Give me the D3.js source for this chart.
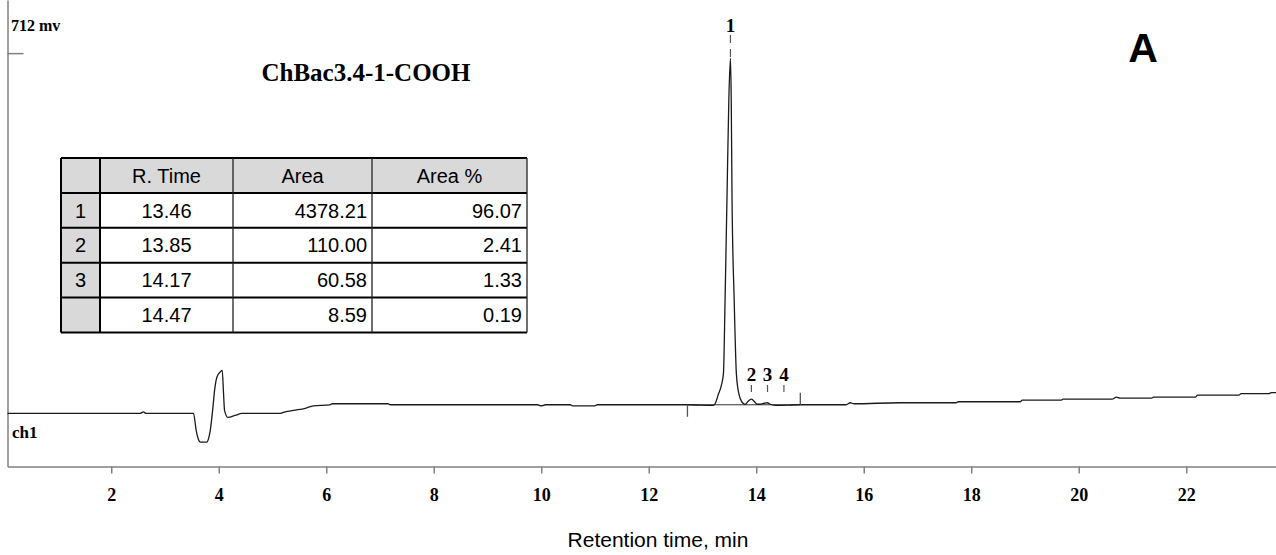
<!DOCTYPE html>
<html>
<head>
<meta charset="utf-8">
<script src="https://cdn.jsdelivr.net/npm/d3@7"></script>
<style>
  body { margin: 0; background: #fff; }
  svg { display: block; }
</style>
</head>
<body>
<div id="chart"></div>
<script>
// DATA

// chromatogram trace: retention time (min) / signal (mV)
const trace_t = [
    0.07, 2.54, 2.595, 2.65, 3.53, 3.581, 3.624, 3.66, 3.78, 3.81, 3.842, 3.892, 3.922, 3.967, 4.028, 4.065,
    4.089, 4.108, 4.171, 4.307, 4.432, 5.14, 5.2, 5.39, 5.61, 5.76, 6.07, 6.11, 7.15, 7.19, 9.93, 10.0,
    10.08, 10.54, 10.58, 11.0, 11.04, 12.72, 13.2, 13.24, 13.29, 13.35, 13.39, 13.42, 13.455, 13.49,
    13.52, 13.535, 13.55, 13.59, 13.63, 13.665, 13.7, 13.755, 13.795, 13.85, 13.91, 13.96, 14.02, 14.07,
    14.15, 14.205, 14.26, 14.35, 14.82, 15.67, 15.75, 15.82, 16.68, 17.72, 17.76, 18.91, 18.95, 19.67,
    19.71, 20.62, 20.7, 20.77, 21.35, 21.39, 22.17, 22.21, 22.98, 23.02, 23.54, 23.58, 23.67
];
const trace_mv = [
    0, 0, 3, 0, 0, -34, -52, -57, -57, -50, -34, 12, 45, 72, 82, 85,
    40, 6, -8, -4, 0, 0, 2, 6, 10, 15, 17, 19, 19, 17, 17, 15,
    17, 17, 15, 15, 17, 17, 16, 20, 36, 55, 79, 223, 421, 619,
    702, 619, 421, 223, 79, 45, 30, 20, 18, 24, 28, 24, 18, 18,
    20, 21, 18, 16, 17, 17, 21, 19, 21, 21, 23, 23, 26, 26,
    28, 28, 32, 30, 30, 32, 32, 36, 36, 39, 39, 41, 41
];

// integration baseline under the peak group
const base_t = [12.72, 14.82];
const base_mv = [17, 17];

// peak labels
const peak_labels = ['1', '2', '3', '4'];
const peak_t = [13.52, 13.91, 14.21, 14.515];

// x axis ticks
const x_ticks = [2, 4, 6, 8, 10, 12, 14, 16, 18, 20, 22];
const y_ticks = [712];

// results table
const tbl_header = ['', 'R. Time', 'Area', 'Area %'];
const tbl_no = ['1', '2', '3', ''];
const tbl_time = ['13.46', '13.85', '14.17', '14.47'];
const tbl_area = ['4378.21', '110.00', '60.58', '8.59'];
const tbl_pct = ['96.07', '2.41', '1.33', '0.19'];

// CONFIG

const width = 1276,
    height = 555;

const plot = { left: 7.5, right: 1276, top: 0, bottom: 466.5 };

const serif = '"Liberation Serif", "Times New Roman", serif',
    sans = '"Liberation Sans", Arial, sans-serif';

const svg = d3.select('#chart')
    .append('svg')
    .attr('width', width)
    .attr('height', height);

// SCALES

const x_scale = d3.scaleLinear()
    .domain([0.07, 23.67])
    .range([plot.left, plot.right]);

const y_scale = d3.scaleLinear()
    .domain([-105, 817])
    .range([plot.bottom, plot.top]);

// AXES

const x_axis = d3.axisBottom(x_scale)
    .tickValues(x_ticks)
    .tickSize(7)
    .tickSizeOuter(0)
    .tickPadding(15)
    .tickFormat(d3.format('d'));

const gx = svg.append('g')
    .attr('transform', `translate(0, ${plot.bottom})`)
    .call(x_axis);

gx.select('.domain').attr('stroke', '#808080').attr('stroke-width', 1.5);
gx.selectAll('.tick line').attr('stroke', '#808080').attr('stroke-width', 1.5);
gx.selectAll('.tick text')
    .attr('fill', '#000')
    .style('font-family', serif)
    .style('font-weight', 'bold')
    .style('font-size', '18px');

const y_axis = d3.axisRight(y_scale)
    .tickValues(y_ticks)
    .tickSize(16)
    .tickSizeOuter(0)
    .tickFormat('');

const gy = svg.append('g')
    .attr('transform', `translate(${plot.left}, 0)`)
    .call(y_axis);

gy.select('.domain').attr('stroke', '#808080').attr('stroke-width', 1.5);
gy.selectAll('.tick line').attr('stroke', '#808080').attr('stroke-width', 1.5);

svg.append('text')
    .attr('x', 11)
    .attr('y', 31)
    .style('font-family', serif)
    .style('font-weight', 'bold')
    .style('font-size', '16px')
    .text('712 mv');

svg.append('text')
    .attr('x', 12)
    .attr('y', 438)
    .style('font-family', serif)
    .style('font-weight', 'bold')
    .style('font-size', '17px')
    .text('ch1');

svg.append('text')
    .attr('x', 658)
    .attr('y', 547)
    .style('text-anchor', 'middle')
    .style('font-family', sans)
    .style('font-size', '21px')
    .text('Retention time, min');

// TITLES

svg.append('text')
    .attr('x', 366)
    .attr('y', 81)
    .style('text-anchor', 'middle')
    .style('font-family', serif)
    .style('font-weight', 'bold')
    .style('font-size', '25px')
    .text('ChBac3.4-1-COOH');

svg.append('text')
    .attr('x', 1143)
    .attr('y', 62)
    .style('text-anchor', 'middle')
    .style('font-family', sans)
    .style('font-weight', 'bold')
    .style('font-size', '41px')
    .text('A');

// TRACE

const trace = trace_t.map((t, i) => [t, trace_mv[i]]);

const line = d3.line()
    .x((d) => x_scale(d[0]))
    .y((d) => y_scale(d[1]))
    .curve(d3.curveMonotoneX);

svg.append('path')
    .datum(base_t.map((t, i) => [t, base_mv[i]]))
    .attr('d', d3.line().x((d) => x_scale(d[0])).y((d) => y_scale(d[1])))
    .attr('fill', 'none')
    .attr('stroke', '#333')
    .attr('stroke-width', 1);

svg.append('path')
    .datum(trace)
    .attr('d', line)
    .attr('fill', 'none')
    .attr('stroke', '#1a1a1a')
    .attr('stroke-width', 1.3);

// baseline start / end marks
svg.append('line')
    .attr('x1', x_scale(base_t[0])).attr('x2', x_scale(base_t[0]))
    .attr('y1', y_scale(base_mv[0])).attr('y2', y_scale(base_mv[0]) + 12)
    .attr('stroke', '#555').attr('stroke-width', 1.3);

svg.append('line')
    .attr('x1', x_scale(base_t[1])).attr('x2', x_scale(base_t[1]))
    .attr('y1', y_scale(base_mv[1])).attr('y2', y_scale(base_mv[1]) - 12)
    .attr('stroke', '#555').attr('stroke-width', 1.3);

// PEAK MARKERS

const markers = svg.append('g')
    .selectAll('g')
    .data(peak_labels)
    .enter()
    .append('g')
    .attr('transform', (d, i) => `translate(${x_scale(peak_t[i])}, 0)`);

markers.append('line')
    .attr('y1', (d, i) => i === 0 ? 35 : 385)
    .attr('y2', (d, i) => i === 0 ? 58 : 392)
    .attr('stroke', '#555')
    .attr('stroke-width', 1.2)
    .attr('stroke-dasharray', (d, i) => i === 0 ? '8,6' : null);

markers.append('text')
    .attr('y', (d, i) => i === 0 ? 32 : 381)
    .style('text-anchor', 'middle')
    .style('font-family', serif)
    .style('font-weight', 'bold')
    .style('font-size', '19px')
    .text((d) => d);

// TABLE

const col_edges = [61, 100, 233, 372, 527];
const rows = ['head'].concat(tbl_no);

const row_scale = d3.scaleBand()
    .domain(d3.range(rows.length))
    .range([158, 332.5]);

const table = svg.append('g').attr('id', 'table');

// header background
table.append('rect')
    .attr('x', col_edges[0]).attr('y', row_scale(0))
    .attr('width', col_edges[4] - col_edges[0]).attr('height', row_scale.bandwidth())
    .attr('fill', '#d9d9d9');

// first column background
table.selectAll('rect.num')
    .data(tbl_no)
    .enter()
    .append('rect')
    .attr('class', 'num')
    .attr('x', col_edges[0]).attr('y', (d, i) => row_scale(i + 1))
    .attr('width', col_edges[1] - col_edges[0]).attr('height', row_scale.bandwidth())
    .attr('fill', '#d9d9d9');

// horizontal rules
table.selectAll('line.h')
    .data(d3.range(rows.length + 1))
    .enter()
    .append('line')
    .attr('class', 'h')
    .attr('x1', col_edges[0]).attr('x2', col_edges[4])
    .attr('y1', (d) => d < rows.length ? row_scale(d) : row_scale.range()[1])
    .attr('y2', (d) => d < rows.length ? row_scale(d) : row_scale.range()[1])
    .attr('stroke', '#000')
    .attr('stroke-width', 2);

// vertical rules
table.selectAll('line.v')
    .data(col_edges)
    .enter()
    .append('line')
    .attr('class', 'v')
    .attr('x1', (d) => d).attr('x2', (d) => d)
    .attr('y1', row_scale.range()[0]).attr('y2', row_scale.range()[1])
    .attr('stroke', (d, i) => i < 2 ? '#000' : '#222')
    .attr('stroke-width', (d, i) => i < 2 ? 2 : 1.3);

const cell_text = (txt, col, row, align) => {
    const pad = 5;
    let x;
    if (align === 'middle') x = (col_edges[col] + col_edges[col + 1]) / 2;
    else x = col_edges[col + 1] - pad;
    table.append('text')
        .attr('x', x)
        .attr('y', row_scale(row) + row_scale.bandwidth() / 2)
        .attr('dy', '0.36em')
        .style('text-anchor', align)
        .style('font-family', sans)
        .style('font-size', '20px')
        .text(txt);
};

tbl_header.forEach((h, c) => cell_text(h, c, 0, 'middle'));
tbl_no.forEach((v, r) => cell_text(v, 0, r + 1, 'middle'));
tbl_time.forEach((v, r) => cell_text(v, 1, r + 1, 'middle'));
tbl_area.forEach((v, r) => cell_text(v, 2, r + 1, 'end'));
tbl_pct.forEach((v, r) => cell_text(v, 3, r + 1, 'end'));
</script>
</body>
</html>
